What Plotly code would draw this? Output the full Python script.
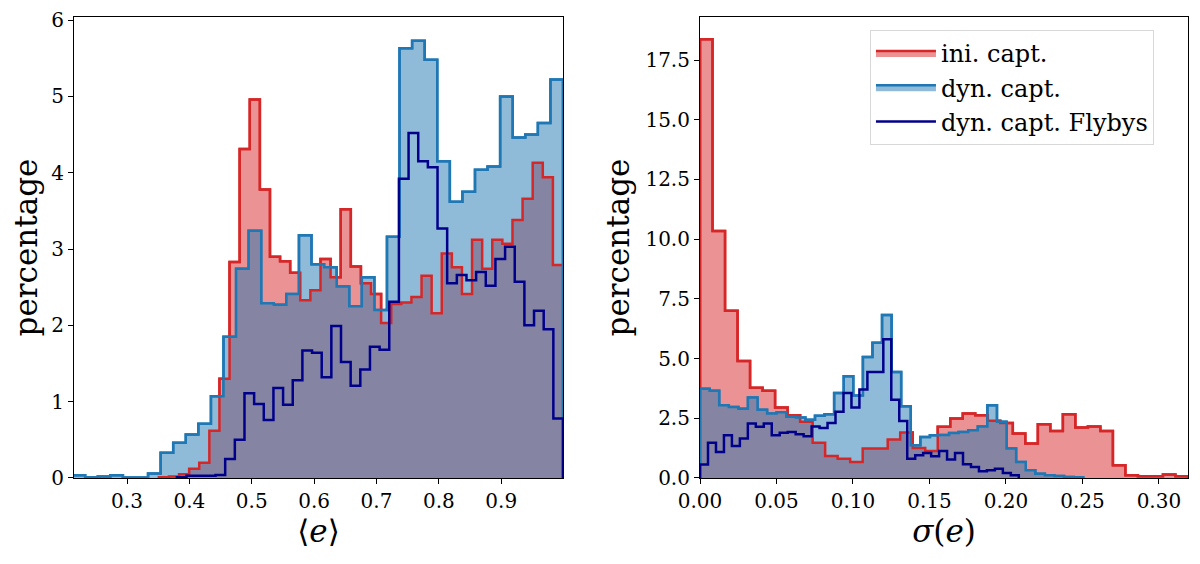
import numpy as np
import plotly.graph_objects as go

# <e> histograms (percentage per bin), 40 bins each over [lo, hi]
ini_mean_range = (0.351, 0.999)
ini_mean = [0.01, 0.02, 0.05, 0.12, 0.2, 0.62, 1.3, 2.83, 4.31, 4.96,
            3.78, 2.9, 2.84, 2.69, 2.33, 2.46, 2.87, 2.63, 3.52, 2.77,
            2.55, 2.41, 2.03, 2.28, 2.3, 2.37, 2.65, 2.16, 2.94, 2.76,
            2.41, 3.12, 2.74, 3.12, 3.07, 3.38, 3.66, 4.13, 3.94, 2.79]

dyn_mean_range = (0.1926, 0.999)
dyn_mean = [0.03, 0.035, 0.01, 0.02, 0.035, 0.005, 0.005, 0.06, 0.33, 0.46,
            0.57, 0.71, 1.07, 1.85, 2.74, 3.24, 2.29, 2.27, 2.41, 3.18,
            2.8, 2.76, 2.51, 2.25, 2.63, 2.2, 3.16, 5.63, 5.73, 5.48,
            4.15, 3.62, 3.75, 4.04, 4.08, 5.0, 4.46, 4.5, 4.65, 5.22]

fly_mean_range = (0.38, 0.999)
fly_mean = [0.01, 0.03, 0.03, 0.03, 0.04, 0.25, 0.5, 1.11, 0.97, 0.76,
            1.18, 0.96, 1.28, 1.67, 1.64, 1.32, 1.99, 1.52, 1.21, 1.42,
            1.72, 1.68, 2.31, 3.92, 4.52, 4.15, 4.07, 3.27, 2.55, 2.66,
            2.59, 2.7, 2.52, 2.87, 3.03, 2.57, 2.0, 2.19, 1.95, 0.78]

# sigma(e) histograms
ini_std_range = (0.0, 0.319)
ini_std = [18.37, 10.34, 7.0, 4.9, 3.78, 3.65, 2.95, 2.63, 2.35, 1.47,
           0.92, 0.81, 0.67, 1.23, 1.23, 1.61, 1.9, 1.26, 1.13, 2.14,
           2.49, 2.7, 2.63, 2.4, 2.3, 1.86, 1.44, 2.25, 1.97, 2.67,
           2.11, 2.16, 1.97, 0.53, 0.11, 0.07, 0.07, 0.15, 0.07]

dyn_std_range = (0.0, 0.2505)
dyn_std = [3.74, 3.65, 3.04, 2.97, 2.9, 3.37, 2.86, 2.7, 2.75, 2.56,
           2.53, 2.44, 2.61, 2.67, 3.56, 4.26, 3.45, 5.07, 5.66, 6.82,
           4.44, 3.0, 1.37, 1.72, 1.79, 1.8, 1.88, 1.93, 2.0, 2.16,
           3.04, 2.35, 1.23, 0.67, 0.32, 0.18, 0.11, 0.08, 0.04, 0.03]

fly_std_range = (0.0, 0.2084)
fly_std = [0.56, 1.47, 1.09, 1.79, 1.34, 1.65, 2.28, 2.14, 2.28, 1.79,
           1.89, 1.93, 1.83, 1.75, 2.16, 2.09, 2.3, 2.77, 3.56, 2.95,
           3.7, 4.44, 4.44, 5.81, 3.28, 2.39, 0.81, 0.95, 1.05, 0.91,
           1.13, 0.77, 1.05, 0.57, 0.46, 0.28, 0.32, 0.39, 0.21, 0.11]

RED = "#d62728"
BLUE = "#1f77b4"
NAVY = "#00008b"
RED_FILL = "#eb9394"
BLUE_FILL = "#8fbbd9"
MIX_FILL = "#8585a3"
FONT = "DejaVu Serif"


def edges_of(rng, vals):
    return np.linspace(rng[0], rng[1], len(vals) + 1)


def step_xy(edges, vals):
    vals = list(vals)
    x = [edges[0]] + list(edges) + [edges[-1]]
    y = [0] + vals + [vals[-1], 0]
    return x, y


def value_at(edges, vals, x):
    i = np.searchsorted(edges, x, side="right") - 1
    if i < 0 or i >= len(vals):
        return 0.0
    return vals[i]


def overlap(e1, v1, e2, v2):
    grid = np.unique(np.concatenate([e1, e2]))
    mids = 0.5 * (grid[:-1] + grid[1:])
    vals = [min(value_at(e1, v1, m), value_at(e2, v2, m)) for m in mids]
    return grid, vals


fig = go.Figure()


def add_panel(xa, ya, ini, ini_rng, dyn, dyn_rng, fly, fly_rng, legend):
    e_ini = edges_of(ini_rng, ini)
    e_dyn = edges_of(dyn_rng, dyn)
    e_fly = edges_of(fly_rng, fly)
    common = dict(xaxis=xa, yaxis=ya, mode="lines", line_shape="hv",
                  hoverinfo="skip")
    x, y = step_xy(e_ini, ini)
    fig.add_trace(go.Scatter(x=x, y=y, fill="tozeroy", fillcolor=RED_FILL,
                             line=dict(color=RED, width=2.5), name="ini. capt.",
                             showlegend=legend, **common))
    x, y = step_xy(e_dyn, dyn)
    fig.add_trace(go.Scatter(x=x, y=y, fill="tozeroy", fillcolor=BLUE_FILL,
                             line=dict(color=BLUE, width=2.5), name="dyn. capt.",
                             showlegend=legend, **common))
    g, v = overlap(e_ini, ini, e_dyn, dyn)
    x, y = step_xy(g, v)
    fig.add_trace(go.Scatter(x=x, y=y, fill="tozeroy", fillcolor=MIX_FILL,
                             line=dict(color=MIX_FILL, width=0),
                             showlegend=False, **common))
    x, y = step_xy(e_ini, ini)
    fig.add_trace(go.Scatter(x=x, y=y, line=dict(color=RED, width=2.5),
                             showlegend=False, **common))
    x, y = step_xy(e_dyn, dyn)
    fig.add_trace(go.Scatter(x=x, y=y, line=dict(color=BLUE, width=2.5),
                             showlegend=False, **common))
    x, y = step_xy(e_fly, fly)
    fig.add_trace(go.Scatter(x=x, y=y, line=dict(color=NAVY, width=2.5),
                             name="dyn. capt. Flybys", showlegend=legend,
                             **common))


add_panel("x", "y", ini_mean, ini_mean_range, dyn_mean, dyn_mean_range,
          fly_mean, fly_mean_range, False)
add_panel("x2", "y2", ini_std, ini_std_range, dyn_std, dyn_std_range,
          fly_std, fly_std_range, True)

axis_style = dict(showline=True, linecolor="black", linewidth=1.2, mirror=True,
                  ticks="outside", ticklen=5, tickcolor="black", showgrid=False,
                  zeroline=False, automargin=False,
                  tickfont=dict(family=FONT, size=20, color="black"))

fig.update_layout(
    width=1200, height=564,
    margin=dict(l=0, r=0, t=0, b=0),
    paper_bgcolor="white", plot_bgcolor="white",
    font=dict(family=FONT, color="black"),
    xaxis=dict(domain=[0.055, 0.4625], range=[0.215, 0.999],
               tickvals=[0.3, 0.4, 0.5, 0.6, 0.7, 0.8, 0.9],
               title=dict(text="⟨<i>e</i>⟩", font=dict(size=31), standoff=4),
               anchor="y", **axis_style),
    yaxis=dict(domain=[0.1667, 0.984], range=[0, 6.04], dtick=1,
               title=dict(text="percentage", font=dict(size=31), standoff=6),
               anchor="x", **axis_style),
    xaxis2=dict(domain=[0.5767, 0.9833], range=[0, 0.319], dtick=0.05,
                tickformat=".2f",
                title=dict(text="<i>σ</i>(<i>e</i>)", font=dict(size=31), standoff=4),
                anchor="y2", **axis_style),
    yaxis2=dict(domain=[0.1667, 0.984], range=[0, 19.3], dtick=2.5,
                tickformat=".1f",
                title=dict(text="percentage", font=dict(size=31), standoff=6),
                anchor="x2", **axis_style),
    legend=dict(x=0.7183, y=0.961, xanchor="left", yanchor="top",
                bgcolor="white", bordercolor="#d8d8d8", borderwidth=1,
                font=dict(family=FONT, size=24, color="black"),
                itemwidth=60, tracegroupgap=2),
)

fig.write_html("out.html")
